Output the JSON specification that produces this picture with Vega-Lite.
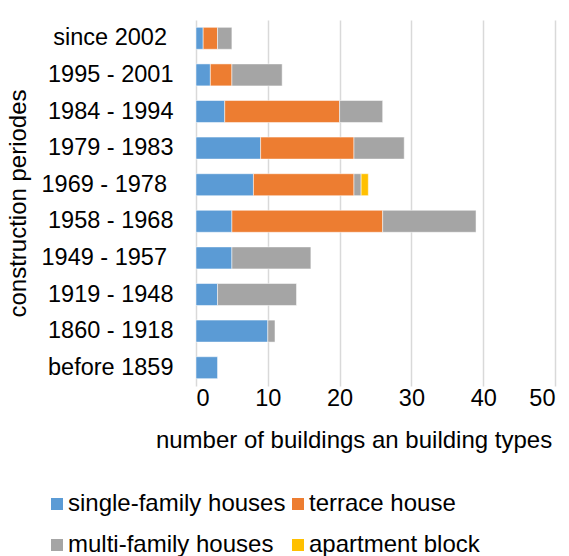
{
  "$schema": "https://vega.github.io/schema/vega-lite/v6.json",
  "autosize": "none",
  "width": 359,
  "height": 366,
  "padding": {"left": 196, "top": 20, "right": 14, "bottom": 170},
  "background": "white",
  "config": {
    "view": {"stroke": null},
    "font": "Liberation Sans",
    "axis": {"labelFont": "Liberation Sans", "titleFont": "Liberation Sans", "labelColor": "#000", "titleColor": "#000", "titleFontWeight": "normal"},
    "legend": {"labelFont": "Liberation Sans", "labelColor": "#000"}
  },
  "data": {
    "values": [
      {"period": "since 2002\u00a0\u200b", "type": "single-family houses", "k": 1, "n": 1},
      {"period": "since 2002\u00a0\u200b", "type": "terrace house", "k": 2, "n": 2},
      {"period": "since 2002\u00a0\u200b", "type": "multi-family houses", "k": 3, "n": 2},
      {"period": "1995 - 2001", "type": "single-family houses", "k": 1, "n": 2},
      {"period": "1995 - 2001", "type": "terrace house", "k": 2, "n": 3},
      {"period": "1995 - 2001", "type": "multi-family houses", "k": 3, "n": 7},
      {"period": "1984 - 1994", "type": "single-family houses", "k": 1, "n": 4},
      {"period": "1984 - 1994", "type": "terrace house", "k": 2, "n": 16},
      {"period": "1984 - 1994", "type": "multi-family houses", "k": 3, "n": 6},
      {"period": "1979 - 1983", "type": "single-family houses", "k": 1, "n": 9},
      {"period": "1979 - 1983", "type": "terrace house", "k": 2, "n": 13},
      {"period": "1979 - 1983", "type": "multi-family houses", "k": 3, "n": 7},
      {"period": "1969 - 1978\u00a0\u200b", "type": "single-family houses", "k": 1, "n": 8},
      {"period": "1969 - 1978\u00a0\u200b", "type": "terrace house", "k": 2, "n": 14},
      {"period": "1969 - 1978\u00a0\u200b", "type": "multi-family houses", "k": 3, "n": 1},
      {"period": "1969 - 1978\u00a0\u200b", "type": "apartment block", "k": 4, "n": 1},
      {"period": "1958 - 1968", "type": "single-family houses", "k": 1, "n": 5},
      {"period": "1958 - 1968", "type": "terrace house", "k": 2, "n": 21},
      {"period": "1958 - 1968", "type": "multi-family houses", "k": 3, "n": 13},
      {"period": "1949 - 1957\u00a0\u200b", "type": "single-family houses", "k": 1, "n": 5},
      {"period": "1949 - 1957\u00a0\u200b", "type": "multi-family houses", "k": 3, "n": 11},
      {"period": "1919 - 1948", "type": "single-family houses", "k": 1, "n": 3},
      {"period": "1919 - 1948", "type": "multi-family houses", "k": 3, "n": 11},
      {"period": "1860 - 1918", "type": "single-family houses", "k": 1, "n": 10},
      {"period": "1860 - 1918", "type": "multi-family houses", "k": 3, "n": 1},
      {"period": "before 1859", "type": "single-family houses", "k": 1, "n": 3}
    ]
  },
  "mark": {"type": "bar", "stroke": "white", "strokeWidth": 0.5},
  "encoding": {
    "y": {
      "field": "period", "type": "nominal",
      "sort": ["since 2002\u00a0\u200b", "1995 - 2001", "1984 - 1994", "1979 - 1983", "1969 - 1978\u00a0\u200b", "1958 - 1968", "1949 - 1957\u00a0\u200b", "1919 - 1948", "1860 - 1918", "before 1859"],
      "scale": {"paddingInner": 0.4, "paddingOuter": 0.2},
      "axis": {"title": "construction periodes", "domain": false, "ticks": false, "labelFontSize": 23.5, "labelPadding": 23, "labelLimit": 300, "titleFontSize": 24, "titlePadding": 11}
    },
    "x": {
      "field": "n", "type": "quantitative", "stack": "zero",
      "scale": {"domain": [0, 50]},
      "axis": {"title": "number of buildings an building types", "values": [0, 10, 20, 30, 40, 50], "domain": false, "ticks": false, "grid": true, "gridColor": "#d9d9d9", "gridWidth": 1.5, "labelFontSize": 23.5, "labelPadding": 0, "titleFontSize": 24, "titlePadding": 19, "titleLimit": 600, "titleX": 157.5, "titleAlign": "center", "titleAnchor": "start"}
    },
    "color": {
      "field": "type", "type": "nominal",
      "scale": {"domain": ["single-family houses", "terrace house", "multi-family houses", "apartment block"], "range": ["#5B9BD5", "#ED7D31", "#A5A5A5", "#FFC000"]},
      "legend": {"title": null, "orient": "none", "legendX": -151, "legendY": 472, "direction": "horizontal", "columns": 2, "symbolType": "square", "symbolSize": 144, "symbolStrokeWidth": 0, "labelFontSize": 24, "labelLimit": 400, "labelOffset": -1, "rowPadding": 17, "columnPadding": 0}
    },
    "order": {"field": "k", "type": "quantitative"}
  }
}
